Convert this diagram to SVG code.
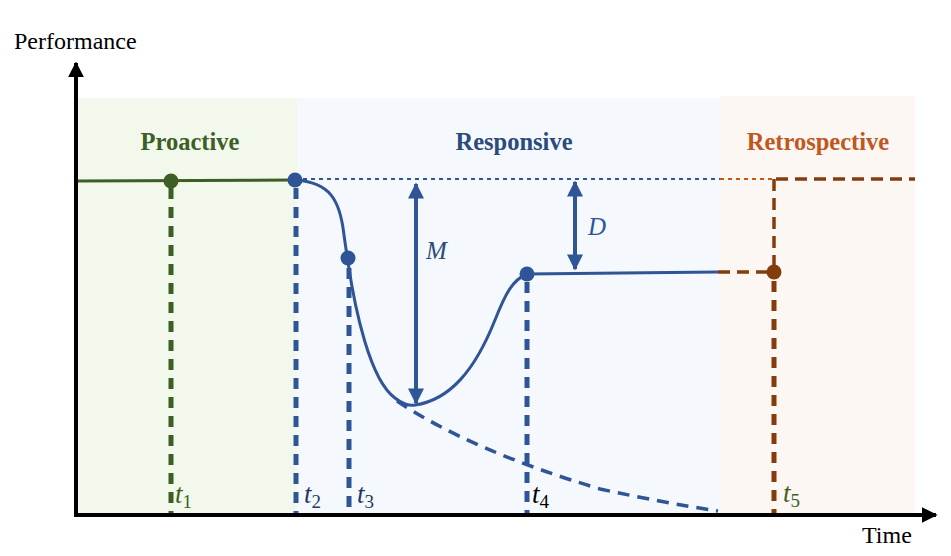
<svg xmlns="http://www.w3.org/2000/svg" width="951" height="556" viewBox="0 0 951 556">
<defs>
<style>
.lbl{font-family:"Liberation Serif","Times New Roman",serif;}
.title{font-size:24.5px;font-weight:bold;text-anchor:middle;}
.t{font-size:27px;font-style:italic;}
.sub{font-size:19px;font-style:normal;}
.vd{fill:none;stroke-width:5;stroke-dasharray:11 8;}
</style>
<marker id="ah" viewBox="0 0 10 10" refX="9" refY="5" markerWidth="4.4" markerHeight="4" orient="auto-start-reverse" markerUnits="strokeWidth"><path d="M0,0 L10,5 L0,10 z" fill="#2f5597"/></marker>
<marker id="ak" viewBox="0 0 10 10" refX="9" refY="5" markerWidth="4" markerHeight="4.5" orient="auto" markerUnits="strokeWidth"><path d="M0,0 L10,5 L0,10 z" fill="#000"/></marker>
</defs>
<rect width="951" height="556" fill="#fff"/>
<g id="panels">
<rect x="77" y="98" width="220" height="416" fill="#f2f8ec"/>
<rect x="297" y="98" width="423" height="416" fill="#f5f9fd"/>
<rect x="720" y="96" width="195" height="418" fill="#fdf7f4"/>
</g>
<g id="titles" class="lbl">
<text class="title" x="190" y="150" fill="#3d5f25">Proactive</text>
<text class="title" x="514" y="150" fill="#2c4a7c">Responsive</text>
<text class="title" x="818" y="150" fill="#c0571f">Retrospective</text>
</g>
<g id="connectors">
<line x1="295" y1="179" x2="720" y2="179" stroke="#2f5597" stroke-width="2.2" stroke-dasharray="4 4"/>
<line x1="720" y1="179" x2="775" y2="179" stroke="#c55a11" stroke-width="2.2" stroke-dasharray="4 4"/>
<line x1="776" y1="179" x2="915" y2="179" stroke="#843c0c" stroke-width="3.5" stroke-dasharray="12 7"/>
<line x1="774" y1="179" x2="774" y2="272" stroke="#843c0c" stroke-width="3.5" stroke-dasharray="12 7"/>
<line x1="718" y1="272" x2="774" y2="272" stroke="#843c0c" stroke-width="3.5" stroke-dasharray="12 7"/>
<line x1="77" y1="181" x2="295" y2="180" stroke="#3d5f25" stroke-width="3"/>
<path d="M295,180 C330,182 340,200 344,235 C346,250 347,255 348,262 C355,310 370,380 395,398 C402,404 410,406 415,405 C450,400 475,370 495,320 C505,295 512,280 527,274 L718,272" fill="none" stroke="#2f5597" stroke-width="3"/>
<path d="M397,401 Q470,450 600,489 Q665,503 718,511" fill="none" stroke="#2f5597" stroke-width="3.5" stroke-dasharray="12 8"/>
<line class="vd" x1="171" y1="188" x2="171" y2="514" stroke="#3d5f25"/>
<line class="vd" x1="296" y1="188" x2="296" y2="514" stroke="#2f5597"/>
<line class="vd" x1="349" y1="268" x2="349" y2="514" stroke="#2f5597"/>
<line class="vd" x1="527" y1="282" x2="527" y2="514" stroke="#2f5597"/>
<line class="vd" x1="774" y1="281" x2="774" y2="514" stroke="#843c0c"/>
<line x1="416" y1="184" x2="416" y2="403" stroke="#2f5597" stroke-width="4" marker-start="url(#ah)" marker-end="url(#ah)"/>
<line x1="575" y1="182" x2="575" y2="269" stroke="#2f5597" stroke-width="4" marker-start="url(#ah)" marker-end="url(#ah)"/>
</g>
<g id="axes">
<line x1="76" y1="516" x2="76" y2="63" stroke="#000" stroke-width="4" marker-end="url(#ak)"/>
<line x1="74" y1="515" x2="936" y2="515" stroke="#000" stroke-width="4" marker-end="url(#ak)"/>
<text class="lbl" x="14" y="49" font-size="24" fill="#000">Performance</text>
<text class="lbl" x="862" y="543" font-size="24" fill="#000">Time</text>
</g>
<g id="n1"><circle cx="171" cy="181" r="7.5" fill="#3d5f25"/></g>
<g id="n2"><circle cx="295" cy="180" r="7.5" fill="#2f5597"/></g>
<g id="n3"><circle cx="348" cy="258" r="7.5" fill="#2f5597"/></g>
<g id="n4"><circle cx="527" cy="274" r="7.5" fill="#2f5597"/></g>
<g id="n5"><circle cx="774" cy="272" r="7.5" fill="#843c0c"/></g>
<g id="labels" class="lbl">
<text x="426" y="259" font-size="25" font-style="italic" fill="#2c4a7c">M</text>
<text x="588" y="235" font-size="25" font-style="italic" fill="#2f5597">D</text>
<text class="t" x="175" y="503" fill="#3d5f25">t<tspan class="sub" dy="5">1</tspan></text>
<text class="t" x="304" y="503" fill="#1f3864">t<tspan class="sub" dy="5">2</tspan></text>
<text class="t" x="357" y="503" fill="#1f3864">t<tspan class="sub" dy="5">3</tspan></text>
<text class="t" x="532" y="503" fill="#000">t<tspan class="sub" dy="5">4</tspan></text>
<text class="t" x="783" y="502" fill="#3d5f25">t<tspan class="sub" dy="5">5</tspan></text>
</g>
</svg>
